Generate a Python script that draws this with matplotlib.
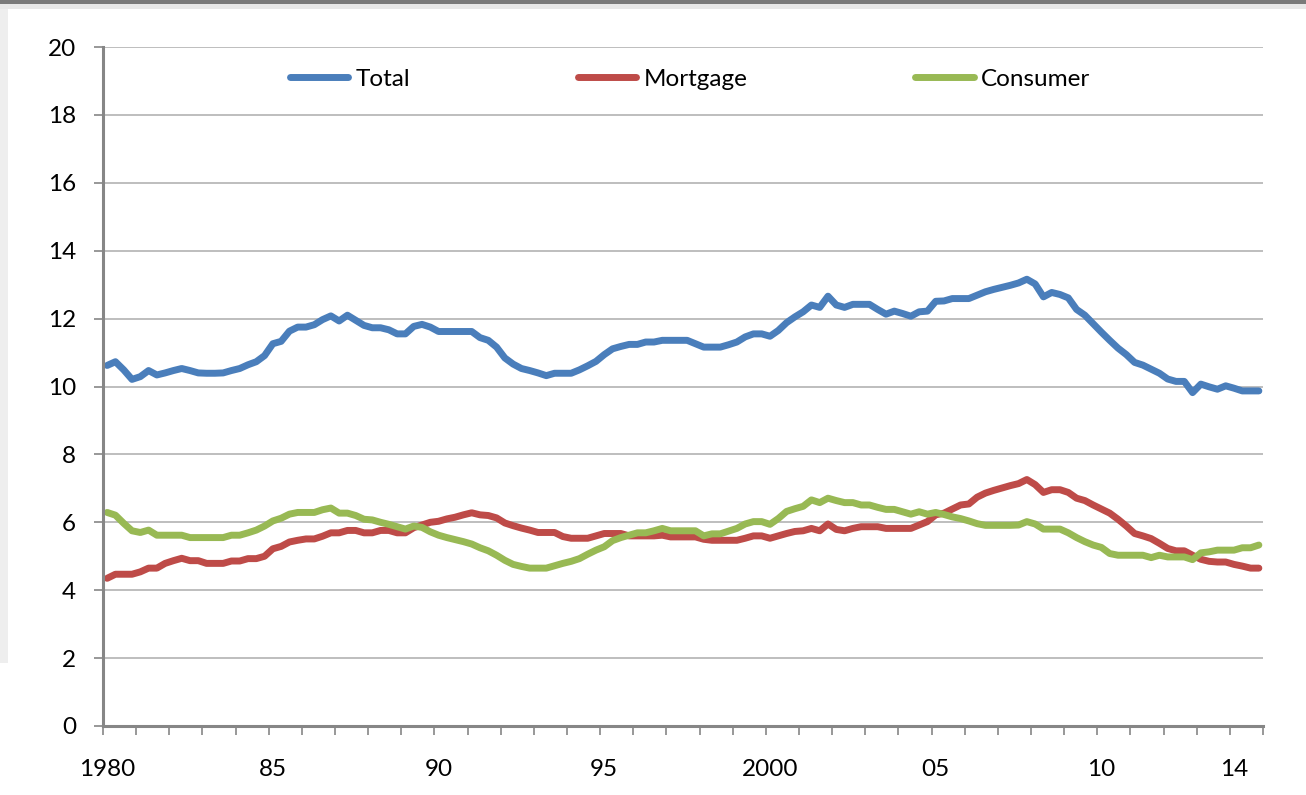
import matplotlib
matplotlib.use("Agg")
import matplotlib.pyplot as plt
from matplotlib.patches import Rectangle
import numpy as np

# ---------------- data (quarterly, 1980Q1 - 2014Q4) ----------------
start_year = 1980
quarters_per_year = 4

total = [10.62, 10.73, 10.49, 10.21, 10.29, 10.47, 10.34, 10.40, 10.47, 10.53,
         10.47, 10.40, 10.39, 10.39, 10.40, 10.47, 10.53, 10.64, 10.73, 10.91,
         11.26, 11.33, 11.63, 11.75, 11.75, 11.82, 11.97, 12.08, 11.93, 12.10,
         11.95, 11.80, 11.73, 11.73, 11.67, 11.55, 11.55, 11.77, 11.83, 11.75,
         11.62, 11.62, 11.62, 11.62, 11.62, 11.44, 11.36, 11.16, 10.84, 10.66,
         10.53, 10.47, 10.40, 10.32, 10.39, 10.39, 10.39, 10.49, 10.61, 10.74,
         10.94, 11.11, 11.18, 11.24, 11.24, 11.31, 11.31, 11.36, 11.36, 11.36,
         11.36, 11.26, 11.16, 11.16, 11.16, 11.23, 11.31, 11.46, 11.55, 11.55,
         11.48, 11.65, 11.88, 12.05, 12.20, 12.40, 12.33, 12.66, 12.40, 12.33,
         12.42, 12.42, 12.42, 12.27, 12.13, 12.22, 12.15, 12.07, 12.20, 12.22,
         12.51, 12.52, 12.59, 12.59, 12.59, 12.69, 12.79, 12.86, 12.92, 12.98,
         13.05, 13.16, 13.02, 12.64, 12.77, 12.71, 12.61, 12.27, 12.10, 11.85,
         11.60, 11.36, 11.13, 10.94, 10.71, 10.63, 10.51, 10.39, 10.22, 10.15,
         10.15, 9.82, 10.07, 9.99, 9.92, 10.02, 9.95, 9.87, 9.87, 9.87]

mortgage = [4.35, 4.47, 4.47, 4.47, 4.54, 4.65, 4.65, 4.79, 4.87, 4.94,
            4.87, 4.87, 4.79, 4.79, 4.79, 4.86, 4.86, 4.93, 4.93, 5.00,
            5.22, 5.29, 5.42, 5.47, 5.51, 5.51, 5.59, 5.69, 5.69, 5.76,
            5.76, 5.69, 5.69, 5.76, 5.76, 5.69, 5.69, 5.84, 5.92, 6.00,
            6.03, 6.10, 6.15, 6.22, 6.28, 6.22, 6.20, 6.13, 5.98, 5.90,
            5.83, 5.77, 5.70, 5.70, 5.70, 5.58, 5.53, 5.53, 5.53, 5.60,
            5.67, 5.67, 5.67, 5.60, 5.60, 5.60, 5.60, 5.62, 5.57, 5.57,
            5.57, 5.57, 5.50, 5.47, 5.47, 5.47, 5.47, 5.53, 5.60, 5.60,
            5.53, 5.60, 5.67, 5.73, 5.75, 5.82, 5.75, 5.95, 5.79, 5.75,
            5.82, 5.87, 5.87, 5.87, 5.82, 5.82, 5.82, 5.82, 5.92, 6.02,
            6.22, 6.27, 6.39, 6.51, 6.54, 6.74, 6.86, 6.94, 7.01, 7.08,
            7.14, 7.26, 7.11, 6.88, 6.96, 6.96, 6.88, 6.71, 6.64, 6.51,
            6.39, 6.27, 6.09, 5.89, 5.67, 5.60, 5.52, 5.38, 5.23, 5.16,
            5.16, 5.03, 4.91, 4.85, 4.83, 4.83, 4.76, 4.71, 4.65, 4.65]

consumer = [6.29, 6.21, 5.97, 5.75, 5.70, 5.77, 5.62, 5.62, 5.62, 5.62,
            5.55, 5.55, 5.55, 5.55, 5.55, 5.62, 5.62, 5.69, 5.77, 5.89,
            6.04, 6.12, 6.24, 6.29, 6.29, 6.29, 6.37, 6.42, 6.27, 6.27,
            6.20, 6.09, 6.07, 6.00, 5.94, 5.87, 5.80, 5.89, 5.85, 5.72,
            5.62, 5.55, 5.49, 5.43, 5.36, 5.25, 5.16, 5.03, 4.88, 4.76,
            4.70, 4.65, 4.65, 4.65, 4.72, 4.79, 4.85, 4.93, 5.06, 5.18,
            5.28, 5.46, 5.55, 5.62, 5.69, 5.69, 5.75, 5.82, 5.75, 5.75,
            5.75, 5.75, 5.60, 5.66, 5.66, 5.74, 5.82, 5.95, 6.02, 6.02,
            5.94, 6.11, 6.32, 6.40, 6.47, 6.66, 6.58, 6.71, 6.64, 6.58,
            6.58, 6.51, 6.51, 6.44, 6.38, 6.38, 6.31, 6.24, 6.31, 6.24,
            6.29, 6.23, 6.16, 6.11, 6.04, 5.96, 5.91, 5.91, 5.91, 5.91,
            5.92, 6.02, 5.95, 5.80, 5.80, 5.80, 5.69, 5.55, 5.43, 5.33,
            5.26, 5.08, 5.03, 5.03, 5.03, 5.03, 4.96, 5.03, 4.98, 4.98,
            4.98, 4.90, 5.10, 5.13, 5.18, 5.18, 5.18, 5.25, 5.25, 5.33]

series_names = ["Total", "Mortgage", "Consumer"]
tick_years = [1980, 1985, 1990, 1995, 2000, 2005, 2010, 2014]
tick_labels = ["1980", "85", "90", "95", "2000", "05", "10", "14"]
y_ticks = [0, 2, 4, 6, 8, 10, 12, 14, 16, 18, 20]

# quarter mid-points on a continuous year axis
x = start_year + (np.arange(len(total)) + 0.5) / quarters_per_year

# ---------------- styling ----------------
plt.rcParams["font.family"] = ["Lato", "DejaVu Sans"]
colors = ["#4A7EBB", "#BE4B48", "#98B954"]
axis_gray = "#868686"
grid_gray = "#BEBEBE"
FS = 17.5
LW = 5.0

W, H = 1306, 795
fig = plt.figure(figsize=(W / 100, H / 100), dpi=100)
fig.patch.set_facecolor("white")

# frame decorations of the original screenshot
fig.patches.append(Rectangle((0, 1 - 4 / H), 1, 4 / H, transform=fig.transFigure,
                             facecolor="#7a7a7a", edgecolor="none", zorder=0))
fig.patches.append(Rectangle((0, 1 - 9 / H), 1, 5 / H, transform=fig.transFigure,
                             facecolor="#e8e8e8", edgecolor="none", zorder=0))
fig.patches.append(Rectangle((0, (H - 663) / H), 8 / W, (663 - 9) / H,
                             transform=fig.transFigure,
                             facecolor="#eeeeee", edgecolor="none", zorder=0))

left, right, top, bottom = 103, 1263, 47, 726
ax = fig.add_axes([left / W, (H - bottom) / H, (right - left) / W, (bottom - top) / H])
ax.set_facecolor("white")

for vals, name, c in zip([total, mortgage, consumer], series_names, colors):
    ax.plot(x, vals, color=c, lw=LW, label=name,
            solid_capstyle="round", solid_joinstyle="round", zorder=3)

ax.set_xlim(1980, 2015)
ax.set_ylim(0, 20)

# y axis
ax.set_yticks(y_ticks)
ax.set_yticklabels([str(v) for v in y_ticks], fontsize=FS)
ax.yaxis.grid(True, color=grid_gray, lw=1.4, zorder=0)
ax.tick_params(axis="y", direction="out", length=6.5, width=1.2, color=axis_gray,
               pad=13, labelcolor="black")

# x axis: tick marks at each year boundary, labels at first quarter
ax.set_xticks(np.arange(1980, 2016), minor=True)
ax.set_xticks([yr + 0.5 / quarters_per_year for yr in tick_years])
ax.set_xticklabels(tick_labels, fontsize=FS)
ax.tick_params(axis="x", which="major", length=0, pad=24, labelcolor="black")
ax.tick_params(axis="x", which="minor", direction="out", length=6.5, width=1.2,
               color=axis_gray)
ax.xaxis.grid(False)

for s in ["top", "right"]:
    ax.spines[s].set_visible(False)
for s in ["left", "bottom"]:
    ax.spines[s].set_color(axis_gray)
    ax.spines[s].set_linewidth(2.2)
    ax.spines[s].set_zorder(4)

leg = ax.legend(loc="center left", bbox_to_anchor=(290 / W, 1 - 79 / H),
                bbox_transform=fig.transFigure, ncol=3, frameon=False,
                fontsize=FS, handlelength=2.4, handletextpad=0.3,
                columnspacing=6.9, borderpad=0, borderaxespad=0)
for h in leg.get_lines():
    h.set_linewidth(LW)
    h.set_solid_capstyle("round")

fig.savefig("out.png", dpi=100, facecolor=fig.get_facecolor())
